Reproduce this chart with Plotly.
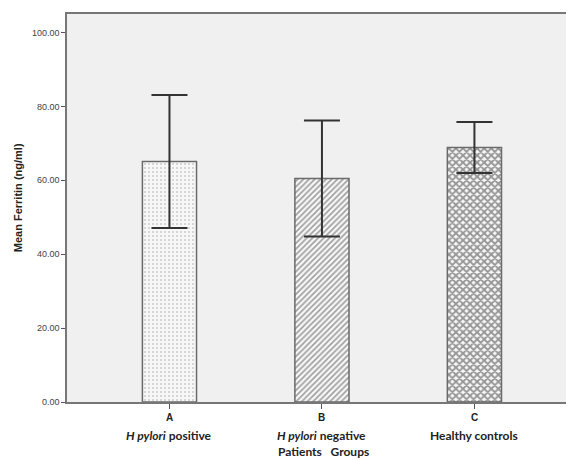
import plotly.graph_objects as go

groups = ["A", "B", "C"]
group_names = ["<i>H pylori</i> positive", "<i>H pylori</i> negative", "Healthy controls"]
mean_ferritin = [65.1, 60.5, 68.9]
error_size = [18.0, 15.7, 6.9]
patterns = [".", "/", "x"]
y_ticks = [0, 20, 40, 60, 80, 100]

fig = go.Figure()
fig.add_trace(go.Bar(
    x=groups, y=mean_ferritin, width=0.355,
    marker=dict(
        color="#f7f7f7",
        line=dict(color="#6a6a6a", width=1.5),
        pattern=dict(shape=patterns, fgcolor=["#a0a0a0", "#444444", "#333333"], bgcolor="#f7f7f7",
                     size=[4, 4, 5], solidity=[0.2, 0.4, 0.6]),
    ),
    error_y=dict(type="data", array=error_size, visible=True,
                 color="#333333", thickness=2, width=18),
    showlegend=False,
))

label_font = dict(family="Lato, Open Sans, Liberation Sans", size=12, color="#222", weight="bold")
annotations = []
for g, name in zip(groups, group_names):
    annotations.append(dict(x=g, y=-0.04, xref="x", yref="paper", text="<b>" + g + "</b>",
                            showarrow=False, yanchor="middle",
                            font=dict(family="Arial, Liberation Sans", size=10, color="#222")))
    annotations.append(dict(x=g, y=-0.087, xref="x", yref="paper", text=name,
                            showarrow=False, yanchor="middle", font=label_font))
annotations.append(dict(x=0.505, xref="paper", y=-0.128, yref="paper", text="Patients   Groups",
                        showarrow=False, yanchor="middle", font=label_font))
annotations.append(dict(x=-0.096, xref="paper", y=0.526, yref="paper",
                        text="<b>Mean Ferritin (ng/ml)</b>", textangle=-90,
                        showarrow=False, xanchor="center", yanchor="middle",
                        font=dict(family="Arial, Liberation Sans", size=11, color="#222")))

fig.update_layout(
    width=574, height=460,
    margin=dict(l=59, r=8, t=4, b=66),
    paper_bgcolor="white", plot_bgcolor="#f0f0f0",
    font=dict(family="Arial, Liberation Sans", color="#333"),
    annotations=annotations,
    xaxis=dict(range=[-0.672, 2.653], showticklabels=False, ticks="outside", ticklen=5,
               tickcolor="#555", showline=True, linecolor="#777", linewidth=1.5,
               mirror=True, showgrid=False, zeroline=False),
    yaxis=dict(range=[0, 105], tickvals=y_ticks, ticktext=[f"{v:.2f}" for v in y_ticks],
               ticks="outside", ticklen=4, tickcolor="#555", showline=True,
               linecolor="#777", linewidth=1.5, mirror=True, showgrid=False, zeroline=False,
               tickfont=dict(size=9, color="#444")),
)

fig.write_html("out.html")
